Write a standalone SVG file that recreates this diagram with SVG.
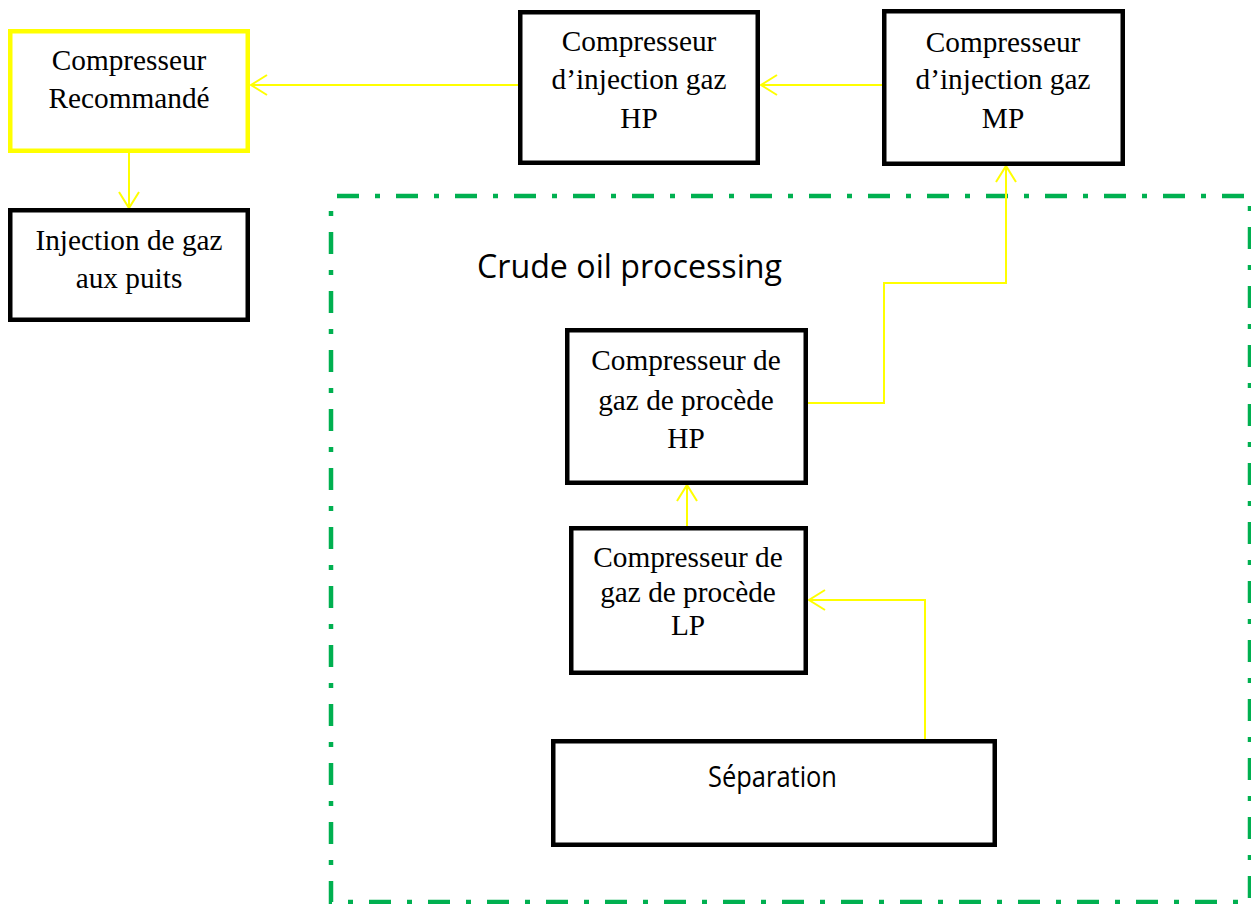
<svg xmlns="http://www.w3.org/2000/svg" width="1251" height="904" viewBox="0 0 1251 904">
  <defs>
    <style>
      .box { fill: #ffffff; stroke: #000000; stroke-width: 4.5; }
      .box-hl { fill: #ffffff; stroke: #ffff00; stroke-width: 4.5; }
      .lbl { font-family: "Liberation Serif", "Times New Roman", serif; font-size: 29.3px; fill: #000000; text-anchor: middle; }
      .sans { font-family: "Open Sans", "Liberation Sans", sans-serif; fill: #000000; }
      .flow { fill: none; stroke: #ffff00; stroke-width: 2; stroke-linejoin: miter; }
      .zone { fill: none; stroke: #00b050; stroke-width: 4.5; stroke-dasharray: 22 16 5 16; stroke-dashoffset: 53; }
    </style>
    <marker id="open-arrow" viewBox="0 0 20 24" refX="18" refY="12" markerWidth="20" markerHeight="24" markerUnits="userSpaceOnUse" orient="auto">
      <path d="M2,2 L18,12 L2,22" fill="none" stroke="#ffff00" stroke-width="2"/>
    </marker>
  </defs>

  <rect width="1251" height="904" fill="#ffffff"/>

  <!-- process area boundary -->
  <g id="crude-oil-zone">
    <path class="zone" d="M331,196 H1250 V902 H331 Z"/>
    <text class="sans" x="477" y="278" font-size="33.5" textLength="305" lengthAdjust="spacingAndGlyphs">Crude oil processing</text>
  </g>

  <!-- flow lines -->
  <g id="connectors">
    <line class="flow" x1="882" y1="85" x2="761" y2="85" marker-end="url(#open-arrow)"/>
    <line class="flow" x1="518" y1="85" x2="251" y2="85" marker-end="url(#open-arrow)"/>
    <line class="flow" x1="129" y1="153" x2="129" y2="208" marker-end="url(#open-arrow)"/>
    <path class="flow" d="M808,403 H884 V283 H1006 V166" marker-end="url(#open-arrow)"/>
    <line class="flow" x1="687" y1="527" x2="687" y2="485" marker-end="url(#open-arrow)"/>
    <path class="flow" d="M925,740 V600 H809" marker-end="url(#open-arrow)"/>
  </g>

  <g id="compresseur-recommande">
    <rect class="box-hl" x="10.25" y="31.25" width="237.5" height="119.5"/>
    <text class="lbl" x="129" y="70">Compresseur</text>
    <text class="lbl" x="129" y="108">Recommandé</text>
  </g>

  <g id="injection-puits">
    <rect class="box" x="10.25" y="210.25" width="237.5" height="109.5"/>
    <text class="lbl" x="129" y="250">Injection de gaz</text>
    <text class="lbl" x="129" y="288">aux puits</text>
  </g>

  <g id="injection-hp">
    <rect class="box" x="520.25" y="12.25" width="237.5" height="150.5"/>
    <text class="lbl" x="639" y="51">Compresseur</text>
    <text class="lbl" x="639" y="89">d’injection gaz</text>
    <text class="lbl" x="639" y="128">HP</text>
  </g>

  <g id="injection-mp">
    <rect class="box" x="884.25" y="11.25" width="238.5" height="152.5"/>
    <text class="lbl" x="1003" y="52">Compresseur</text>
    <text class="lbl" x="1003" y="89">d’injection gaz</text>
    <text class="lbl" x="1003" y="128">MP</text>
  </g>

  <g id="procede-hp">
    <rect class="box" x="567.25" y="330.25" width="238.5" height="152.5"/>
    <text class="lbl" x="686" y="370">Compresseur de</text>
    <text class="lbl" x="686" y="410">gaz de procède</text>
    <text class="lbl" x="686" y="448">HP</text>
  </g>

  <g id="procede-lp">
    <rect class="box" x="571.25" y="528.25" width="234.5" height="144.5"/>
    <text class="lbl" x="688" y="567">Compresseur de</text>
    <text class="lbl" x="688" y="602">gaz de procède</text>
    <text class="lbl" x="688" y="635">LP</text>
  </g>

  <g id="separation">
    <rect class="box" x="553.25" y="741.25" width="441.5" height="103.5"/>
    <text class="sans" x="708" y="787" font-size="29" textLength="129" lengthAdjust="spacingAndGlyphs">Séparation</text>
  </g>
</svg>
